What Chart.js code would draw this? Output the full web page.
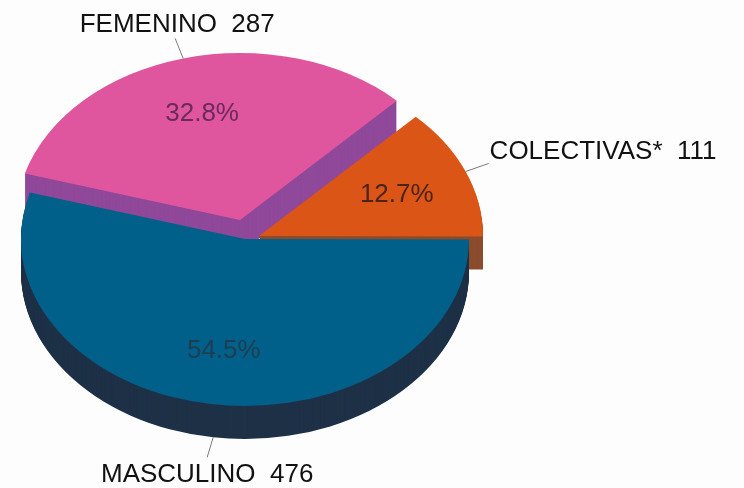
<!DOCTYPE html>
<html><head><meta charset="utf-8">
<style>html,body{margin:0;padding:0;background:#fdfdfd;overflow:hidden}canvas{display:block}</style>
<script src="https://cdn.jsdelivr.net/npm/chart.js@4"></script>
</head><body><canvas id="c" width="744" height="488"></canvas>
<script>
// Drawn clockwise; the back slices come first so the front slice covers them.
const categories = ['FEMENINO', 'COLECTIVAS*', 'MASCULINO'];
const values = [287, 111, 476];
const topColors = ['#e0569e', '#db5516', '#00608a'];
const wallColors = ['#90489a', '#8a4c2c', '#1e3147'];
const textColors = ['#6a2a5c', '#4a2418', '#1d3d50'];

const radius = 224, squash = 167 / 224, depth = 33;
const explode = [[-5, -19], [14, -3], [0, 0]];
const leader = [[-8, -20], [23, -8], [-6, 20]];
const labelShift = [[2, -6], [1, -4], [0, 25]];
const labelAlign = ['center', 'left', 'center'];

const pie3d = {
  id: 'pie3d',
  beforeDatasetDraw(chart, args) {
    const ctx = chart.ctx, arcs = chart.getDatasetMeta(args.index).data;
    arcs.forEach((arc, i) => {
      const base = arc.options;
      const paint = (dy, color) => {
        ctx.save();
        ctx.translate(arc.x + explode[i][0], arc.y + explode[i][1] + dy);
        ctx.scale(1, squash);
        ctx.translate(-arc.x, -arc.y);
        arc.options = Object.assign({}, base, {backgroundColor: color, borderWidth: 0});
        arc.draw(ctx);
        ctx.restore();
      };
      for (let d = depth; d > 0; d--) paint(d, wallColors[i]);
      paint(0, topColors[i]);
      arc.options = base;
    });
    return false;
  },
  afterDatasetsDraw(chart) {
    const ctx = chart.ctx, arcs = chart.getDatasetMeta(0).data;
    const total = values.reduce((a, b) => a + b, 0);
    ctx.save();
    arcs.forEach((arc, i) => {
      const mid = (arc.startAngle + arc.endAngle) / 2;
      const cx = arc.x + explode[i][0], cy = arc.y + explode[i][1];
      const ex = Math.cos(mid) * arc.outerRadius, ey = Math.sin(mid) * arc.outerRadius * squash;
      ctx.font = '26px "Liberation Sans", Arial, sans-serif';
      ctx.textBaseline = 'alphabetic';
      ctx.textAlign = 'center';
      ctx.fillStyle = textColors[i];
      ctx.fillText((values[i] / total * 100).toFixed(1) + '%', cx + ex * 2 / 3, cy + ey * 2 / 3 + 9);
      const ax = cx + ex, ay = cy + ey + (ey > 0 ? depth : 0);
      const lx = ax + leader[i][0], ly = ay + leader[i][1];
      ctx.strokeStyle = '#7a7a7a';
      ctx.lineWidth = 1;
      ctx.beginPath(); ctx.moveTo(ax, ay); ctx.lineTo(lx, ly); ctx.stroke();
      ctx.fillStyle = '#111';
      ctx.textAlign = labelAlign[i];
      ctx.fillText(categories[i] + '  ' + values[i], lx + labelShift[i][0], ly + labelShift[i][1]);
    });
    ctx.restore();
  }
};

new Chart(document.getElementById('c'), {
  type: 'pie',
  data: {labels: categories, datasets: [{data: values, backgroundColor: topColors, borderWidth: 0}]},
  options: {
    responsive: false,
    animation: false,
    rotation: 286.2,
    radius: radius,
    layout: {padding: {left: 0, top: 0, right: 254, bottom: 10}},
    plugins: {legend: {display: false}, tooltip: {enabled: false}}
  },
  plugins: [pie3d]
});
</script></body></html>
